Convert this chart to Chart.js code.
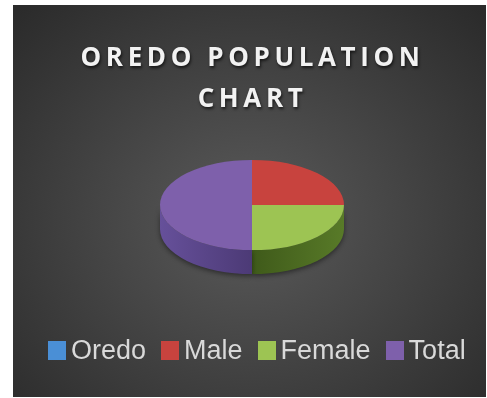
<!DOCTYPE html>
<html>
<head>
<meta charset="utf-8">
<script src="https://cdn.jsdelivr.net/npm/chart.js@4"></script>
<style>
  html, body { margin: 0; padding: 0; background: #fff; }
  #wrap { position: relative; width: 487px; height: 398px; overflow: hidden; }
  #panel {
    position: absolute; left: 13px; top: 5px; width: 473px; height: 392px;
    background: radial-gradient(ellipse 70% 75% at 50% 55%, #5a5a5a 0%, #454545 45%, #2b2b2b 100%);
  }
  #title {
    position: absolute; left: 13px; top: 36px; width: 479px; text-align: center;
    font: 700 26px "Open Sans", sans-serif; letter-spacing: 4.6px; line-height: 41px;
    color: #f2f2f2; text-shadow: 1px 2px 3px rgba(0,0,0,0.65);
  }
  #legend {
    position: absolute; left: 48px; top: 335px; display: flex; align-items: center;
    font: 27px "Liberation Sans", sans-serif; color: #d9d9d9;
  }
  #legend span.item { display: flex; align-items: center; margin-right: 15px; }
  #legend i { display: inline-block; width: 18px; height: 19px; margin-right: 5px; }
  canvas { position: absolute; left: 0; top: 0; }
</style>
</head>
<body>
<div id="wrap">
  <div id="panel"></div>
  <canvas id="chart" width="487" height="398"></canvas>
  <div id="title">OREDO POPULATION<br>CHART</div>
  <div id="legend"></div>
</div>
<script>
const labels = ["Oredo", "Male", "Female", "Total"];
const values = [0, 25, 25, 50];
const topColors = ["#4a8fd6", "#c8433e", "#9dc453", "#7e60ab"];
const sideColors = [["#2d5a8a", "#23476e"], ["#7d2622", "#5e1c19"], ["#587a28", "#3f5a1a"], ["#66509a", "#4c3a76"]];

const tilt = 0.49;   // vertical squash of the pie face
const depth = 24;    // thickness of the pie wall in px

const pie3d = {
  id: "pie3d",
  beforeDatasetDraw(chart, args) {
    const ctx = chart.ctx;
    const arcs = args.meta.data;
    const cy = arcs[0].y;
    ctx.save();
    ctx.translate(0, cy);
    ctx.scale(1, tilt);
    ctx.translate(0, -cy);
    const d = depth / tilt;
    arcs.forEach((a, i) => {
      const s = Math.max(a.startAngle, 0), e = Math.min(a.endAngle, Math.PI);
      if (e <= s) return;
      const g = ctx.createLinearGradient(a.x - a.outerRadius, 0, a.x + a.outerRadius, 0);
      if (i === 3) { g.addColorStop(0, sideColors[i][0]); g.addColorStop(0.5, sideColors[i][1]); g.addColorStop(1, sideColors[i][1]); }
      else { g.addColorStop(0, sideColors[i][1]); g.addColorStop(0.5, sideColors[i][1]); g.addColorStop(1, sideColors[i][0]); }
      ctx.save();
      ctx.shadowColor = "rgba(0,0,0,0.45)";
      ctx.shadowBlur = 5;
      ctx.shadowOffsetY = 2;
      ctx.beginPath();
      ctx.arc(a.x, a.y, a.outerRadius, s, e);
      ctx.arc(a.x, a.y + d, a.outerRadius, e, s, true);
      ctx.closePath();
      ctx.fillStyle = g;
      ctx.fill();
      ctx.restore();
    });
  },
  afterDatasetDraw(chart) {
    chart.ctx.restore();
  }
};

new Chart(document.getElementById("chart"), {
  type: "pie",
  data: {
    labels,
    datasets: [{ data: values, backgroundColor: topColors, borderWidth: 0, clip: false }]
  },
  options: {
    responsive: false,
    animation: false,
    layout: { padding: { left: 160, right: 143, top: 113, bottom: 101 } },
    plugins: { legend: { display: false }, title: { display: false }, tooltip: { enabled: false } }
  },
  plugins: [pie3d]
});

const leg = document.getElementById("legend");
labels.forEach((l, i) => {
  const it = document.createElement("span");
  it.className = "item";
  it.innerHTML = `<i style="background:${topColors[i]}"></i>${l}`;
  leg.appendChild(it);
});
</script>
</body>
</html>
